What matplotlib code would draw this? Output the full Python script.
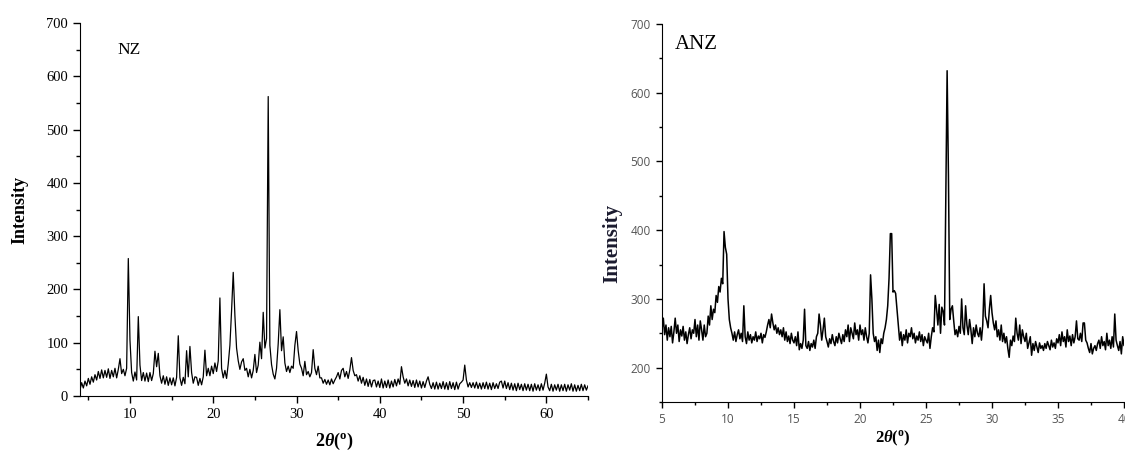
import numpy as np
import matplotlib
matplotlib.use('Agg')
import matplotlib.pyplot as plt
from matplotlib.ticker import MultipleLocator

plt.rcParams['mathtext.fontset'] = 'custom'
plt.rcParams['mathtext.rm'] = 'Liberation Serif:bold'
plt.rcParams['mathtext.it'] = 'Liberation Serif:italic:bold'
plt.rcParams['mathtext.bf'] = 'Liberation Serif:bold'

# NZ pattern, 2theta from 4.0 to 65.0 in 0.2 steps
nz_start, nz_step = 4.0, 0.2
nz_counts = [
    12, 25, 15, 28, 19, 33, 22, 36, 26, 40,
    30, 46, 33, 49, 34, 48, 35, 51, 33, 48,
    36, 52, 34, 50, 70, 42, 50, 38, 52, 258,
    105, 44, 28, 45, 30, 149, 58, 29, 44, 28,
    43, 27, 44, 29, 42, 84, 55, 80, 38, 24,
    38, 22, 36, 20, 34, 21, 34, 19, 35, 113,
    34, 20, 35, 23, 85, 36, 93, 44, 24, 36,
    35, 20, 33, 21, 36, 86, 38, 52, 38, 56,
    42, 62, 46, 66, 184, 52, 34, 48, 33, 60,
    95, 160, 232, 151, 90, 66, 50, 64, 70, 48,
    52, 36, 50, 34, 48, 78, 44, 58, 101, 70,
    157, 90, 108, 562, 95, 59, 41, 32, 52, 98,
    162, 85, 111, 62, 46, 56, 44, 56, 52, 95,
    121, 85, 60, 52, 38, 65, 40, 46, 36, 44,
    87, 52, 40, 56, 34, 34, 24, 31, 22, 30,
    21, 32, 23, 30, 36, 44, 32, 48, 52, 36,
    46, 33, 49, 72, 48, 38, 40, 28, 38, 24,
    35, 20, 32, 18, 31, 17, 29, 30, 17, 28,
    16, 32, 15, 28, 16, 30, 15, 28, 17, 31,
    19, 32, 22, 55, 36, 24, 32, 19, 30, 18,
    29, 16, 30, 17, 28, 15, 27, 16, 28, 36,
    22, 14, 25, 13, 26, 13, 24, 14, 27, 13,
    25, 12, 27, 14, 25, 12, 26, 13, 23, 26,
    30, 58, 30, 17, 25, 16, 25, 15, 26, 14,
    24, 13, 25, 14, 26, 13, 24, 12, 25, 14,
    23, 14, 26, 28, 15, 28, 14, 25, 12, 24,
    11, 23, 10, 24, 12, 22, 10, 23, 11, 22,
    10, 22, 9, 23, 11, 21, 10, 23, 11, 24,
    41, 17, 10, 22, 9, 21, 11, 22, 9, 21,
    10, 22, 9, 21, 11, 23, 9, 21, 9, 20,
    10, 22, 10, 21, 11, 19,
]

# ANZ pattern, 2theta from 5.0 to 40.2 in 0.1 steps
anz_start, anz_step = 5.0, 0.1
anz_counts = [
    255, 272, 248, 262, 240, 258, 245, 260, 236, 252,
    272, 250, 262, 238, 255, 246, 260, 240, 252, 235,
    248, 258, 242, 255, 250, 270, 245, 262, 240, 268,
    255, 240, 262, 245, 250, 275, 262, 290, 270, 285,
    280, 305, 295, 318, 310, 330, 322, 398, 375, 365,
    300, 270, 258, 250, 240, 252, 238, 248, 255, 242,
    250, 238, 290, 245, 235, 252, 240, 248, 236, 245,
    240, 252, 238, 246, 242, 250, 236, 248, 244, 252,
    262, 270, 258, 278, 265, 255, 262, 250, 258, 248,
    255, 245, 258, 240, 252, 238, 246, 235, 250, 240,
    236, 245, 232, 252, 226, 235, 228, 240, 285, 232,
    228, 238, 225, 235, 230, 240, 228, 245, 250, 278,
    262, 240, 255, 272, 245, 238, 230, 242, 235, 248,
    238, 232, 245, 236, 250, 242, 235, 248, 238, 255,
    245, 262, 238, 258, 250, 242, 265, 248, 255, 240,
    262, 248, 255, 240, 258, 245, 236, 250, 335, 300,
    250, 238, 245, 225, 240, 222, 242, 235, 250, 258,
    270, 290, 330, 395, 395, 310, 312, 308, 285, 262,
    240, 252, 232, 248, 240, 255, 236, 250, 245, 258,
    242, 250, 236, 246, 240, 252, 238, 248, 232, 245,
    240, 236, 250, 228, 245, 258, 252, 305, 285, 262,
    292, 250, 288, 282, 262, 455, 632, 480, 270, 285,
    290, 268, 248, 255, 245, 260, 250, 300, 258, 248,
    290, 262, 248, 270, 255, 235, 258, 245, 262, 250,
    245, 258, 240, 262, 322, 275, 268, 258, 285, 305,
    280, 265, 255, 268, 245, 255, 240, 262, 238, 250,
    236, 245, 228, 215, 240, 232, 246, 238, 272, 250,
    240, 262, 235, 255, 245, 238, 250, 228, 236, 245,
    218, 235, 225, 238, 230, 222, 236, 228, 232, 225,
    235, 228, 238, 232, 226, 240, 230, 236, 228, 242,
    236, 248, 232, 252, 238, 245, 230, 255, 238, 246,
    232, 248, 236, 245, 268, 242, 240, 250, 238, 265,
    265, 240, 236, 228, 222, 235, 220, 228, 232, 225,
    235, 240, 228, 245, 232, 238, 226, 250, 232, 240,
    228, 245, 230, 278, 240, 232, 225, 238, 220, 245,
    232, 248, 225,
]

nz_x = nz_start + nz_step * np.arange(len(nz_counts))
anz_x = anz_start + anz_step * np.arange(len(anz_counts))

serif = 'Liberation Serif'
W, H = 1125, 451
fig = plt.figure(figsize=(W / 100, H / 100), dpi=100)

# ---- left panel: NZ
ax1 = fig.add_axes([80 / W, (H - 396) / H, 508 / W, 373 / H])
ax1.plot(nz_x, nz_counts, color='black', lw=0.9)
ax1.set_xlim(4, 65)
ax1.set_ylim(0, 700)
ax1.xaxis.set_major_locator(MultipleLocator(10))
ax1.xaxis.set_minor_locator(MultipleLocator(5))
ax1.yaxis.set_major_locator(MultipleLocator(100))
ax1.yaxis.set_minor_locator(MultipleLocator(50))
ax1.tick_params(which='both', direction='out', width=1, labelsize=10.5)
ax1.tick_params(which='major', length=5)
ax1.tick_params(which='minor', length=3)
for lab in ax1.get_xticklabels() + ax1.get_yticklabels():
    lab.set_fontfamily(serif)
ax1.spines['top'].set_visible(False)
ax1.spines['right'].set_visible(False)
ax1.set_ylabel('Intensity', fontfamily=serif, fontweight='bold', fontsize=13, labelpad=13)
ax1.set_xlabel(r'$2\mathit{\theta}(^{\mathrm{o}})$', fontsize=13, labelpad=7)
ax1.text(8.5, 650, 'NZ', fontfamily=serif, fontsize=12.5, va='center')

# ---- right panel: ANZ
ax2 = fig.add_axes([662 / W, (H - 402) / H, 462 / W, 378 / H])
ax2.plot(anz_x, anz_counts, color='black', lw=1.1)
ax2.set_xlim(5, 40)
ax2.set_ylim(150, 700)
ax2.xaxis.set_major_locator(MultipleLocator(5))
ax2.xaxis.set_minor_locator(MultipleLocator(2.5))
ax2.yaxis.set_major_locator(MultipleLocator(100))
ax2.yaxis.set_minor_locator(MultipleLocator(50))
ax2.tick_params(which='both', direction='out', width=1, labelsize=8.5, labelcolor='#555555')
ax2.tick_params(which='major', length=4.5)
ax2.tick_params(which='minor', length=2.5)
for lab in ax2.get_xticklabels() + ax2.get_yticklabels():
    lab.set_fontfamily('Open Sans')
ax2.spines['top'].set_visible(False)
ax2.spines['right'].set_visible(False)
ax2.set_ylabel('Intensity', fontfamily=serif, fontweight='bold', fontsize=15, color='#1a1a2e')
ax2.yaxis.set_label_coords(-0.085, 0.42)
ax2.set_xlabel(r'$2\mathit{\theta}(^{\mathrm{o}})$', fontsize=12, labelpad=2)
ax2.text(6.0, 670, 'ANZ', fontfamily=serif, fontsize=15, va='center')

fig.savefig('out.png', dpi=100)
